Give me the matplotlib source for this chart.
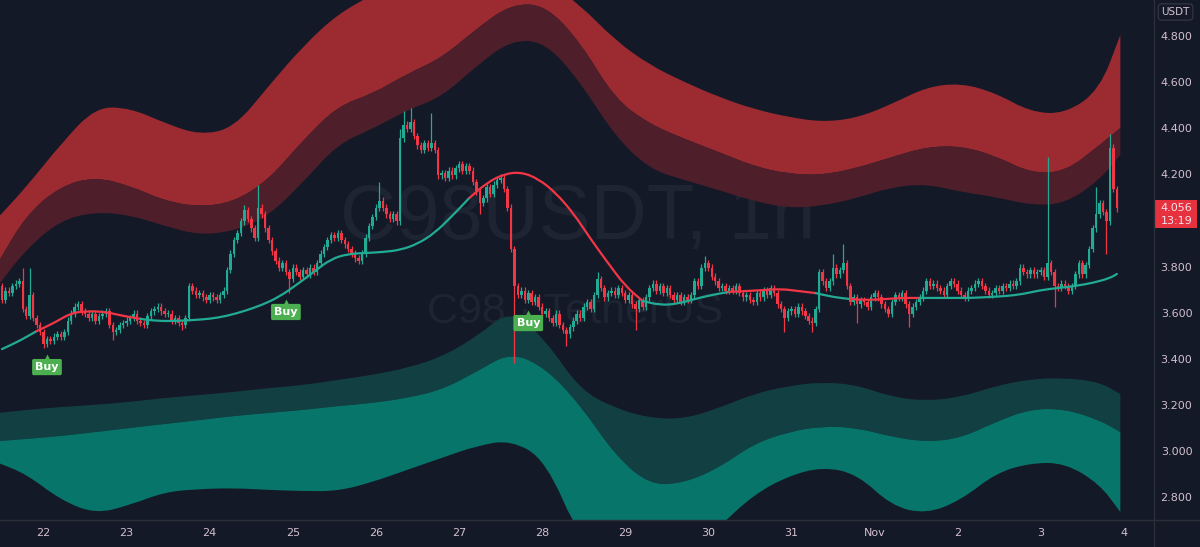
import numpy as np
import matplotlib.pyplot as plt
from matplotlib.patches import Rectangle, PathPatch
from matplotlib.path import Path

# hourly candles, hour 0 = Oct 22 00:00, first candle Oct 21 12:00
HOUR0 = -12
FIRST_OPEN = 3.72
closes = [
    3.66, 3.70, 3.69, 3.72, 3.73, 3.74, 3.62, 3.59, 3.68, 3.58, 3.55, 3.52,
    # Oct 22
    3.47, 3.49, 3.48, 3.50, 3.51, 3.50, 3.52, 3.57, 3.60, 3.63, 3.64, 3.61,
    3.60, 3.58, 3.60, 3.57, 3.59, 3.60, 3.61, 3.55, 3.52, 3.53, 3.55, 3.56,
    # Oct 23
    3.57, 3.58, 3.60, 3.57, 3.56, 3.55, 3.59, 3.61, 3.62, 3.63, 3.61, 3.60,
    3.60, 3.57, 3.58, 3.56, 3.55, 3.58, 3.72, 3.70, 3.68, 3.69, 3.67, 3.66,
    # Oct 24
    3.68, 3.67, 3.66, 3.68, 3.70, 3.79, 3.86, 3.92, 3.95, 4.00, 4.05, 4.01,
    3.97, 3.93, 4.06, 4.03, 3.97, 3.92, 3.87, 3.83, 3.80, 3.82, 3.78, 3.75,
    # Oct 25
    3.80, 3.78, 3.76, 3.79, 3.77, 3.80, 3.78, 3.82, 3.86, 3.89, 3.92, 3.94,
    3.93, 3.95, 3.92, 3.90, 3.88, 3.86, 3.84, 3.83, 3.86, 3.93, 3.98, 4.02,
    # Oct 26
    4.06, 4.09, 4.06, 4.03, 4.01, 4.03, 4.00, 4.36, 4.42, 4.40, 4.43, 4.37,
    4.33, 4.31, 4.34, 4.32, 4.34, 4.31, 4.20, 4.21, 4.19, 4.22, 4.20, 4.23,
    # Oct 27
    4.25, 4.22, 4.24, 4.22, 4.17, 4.13, 4.08, 4.10, 4.15, 4.12, 4.16, 4.18,
    4.19, 4.14, 4.06, 3.88, 3.72, 3.68, 3.70, 3.66, 3.69, 3.65, 3.67, 3.63,
    # Oct 28
    3.60, 3.61, 3.58, 3.56, 3.60, 3.55, 3.53, 3.51, 3.54, 3.57, 3.60, 3.58,
    3.63, 3.65, 3.62, 3.68, 3.75, 3.71, 3.67, 3.69, 3.70, 3.68, 3.71, 3.69,
    # Oct 29
    3.66, 3.68, 3.64, 3.62, 3.66, 3.63, 3.67, 3.71, 3.73, 3.70, 3.72, 3.69,
    3.71, 3.68, 3.66, 3.68, 3.65, 3.67, 3.66, 3.68, 3.74, 3.72, 3.80, 3.82,
    # Oct 30
    3.80, 3.76, 3.74, 3.71, 3.72, 3.70, 3.71, 3.70, 3.72, 3.69, 3.67, 3.68,
    3.66, 3.65, 3.69, 3.67, 3.70, 3.68, 3.71, 3.69, 3.64, 3.62, 3.58, 3.61,
    # Oct 31
    3.62, 3.60, 3.63, 3.61, 3.59, 3.57, 3.56, 3.62, 3.78, 3.74, 3.71, 3.74,
    3.80, 3.77, 3.79, 3.82, 3.72, 3.65, 3.67, 3.64, 3.66, 3.65, 3.63, 3.67,
    # Nov 1
    3.69, 3.67, 3.64, 3.62, 3.60, 3.65, 3.68, 3.67, 3.69, 3.64, 3.60, 3.63,
    3.65, 3.67, 3.70, 3.74, 3.72, 3.73, 3.71, 3.70, 3.68, 3.72, 3.74, 3.73,
    # Nov 2
    3.70, 3.68, 3.67, 3.70, 3.71, 3.73, 3.74, 3.72, 3.70, 3.68, 3.69, 3.71,
    3.70, 3.72, 3.71, 3.73, 3.72, 3.74, 3.80, 3.78, 3.77, 3.79, 3.77, 3.78,
    # Nov 3
    3.79, 3.76, 3.82, 3.78, 3.72, 3.71, 3.73, 3.72, 3.70, 3.72, 3.77, 3.82,
    3.77, 3.81, 3.88, 3.97, 4.03, 4.08, 4.04, 4.00, 4.32, 4.14, 4.056,
]

# long wicks (hour: price); other candles get a short wick
high_wicks = {-6: 3.80, -4: 3.80, 58: 4.07, 62: 4.16, 97: 4.17, 103: 4.40,
              104: 4.48, 106: 4.49, 112: 4.47, 160: 3.78, 191: 3.85,
              228: 3.86, 231: 3.90, 290: 4.28, 304: 4.15, 308: 4.38}
low_wicks = {0: 3.45, 20: 3.485, 40: 3.53, 71: 3.69, 126: 4.03, 136: 3.385,
             151: 3.46, 171: 3.53, 214: 3.52, 222: 3.52, 235: 3.56,
             250: 3.54, 292: 3.63, 307: 3.86}
WICK = 0.014

# envelope bands sampled every 10 hours
band_hours = [-13, -5, 5, 15, 25, 35, 45, 55, 65, 75, 85, 95, 105, 115, 125,
              135, 145, 155, 165, 175, 185, 195, 205, 215, 225, 235, 245,
              255, 265, 275, 285, 295, 305, 311]
upper_top = [4.019, 4.149, 4.336, 4.496, 4.492, 4.427, 4.375, 4.405, 4.587,
             4.761, 4.900, 4.982, 5.091, 5.091, 5.091, 5.091, 5.047, 4.939,
             4.787, 4.679, 4.605, 4.540, 4.488, 4.453, 4.431, 4.449, 4.509,
             4.583, 4.600, 4.557, 4.475, 4.466, 4.570, 4.809]
upper_mid = [3.824, 4.028, 4.154, 4.193, 4.154, 4.089, 4.063, 4.084, 4.180,
             4.353, 4.501, 4.553, 4.640, 4.709, 4.835, 4.943, 4.939, 4.778,
             4.531, 4.423, 4.358, 4.301, 4.240, 4.206, 4.201, 4.232, 4.279,
             4.323, 4.327, 4.284, 4.210, 4.214, 4.331, 4.405]
upper_bot = [3.724, 3.880, 4.006, 4.041, 4.028, 3.980, 3.941, 3.958, 4.023,
             4.171, 4.336, 4.401, 4.483, 4.540, 4.674, 4.787, 4.778, 4.605,
             4.371, 4.227, 4.180, 4.136, 4.089, 4.058, 4.067, 4.102, 4.149,
             4.162, 4.128, 4.106, 4.071, 4.076, 4.180, 4.288]
lower_top = [3.169, 3.182, 3.195, 3.204, 3.217, 3.234, 3.247, 3.260, 3.277,
             3.290, 3.312, 3.334, 3.364, 3.412, 3.499, 3.620, 3.485, 3.269,
             3.190, 3.147, 3.143, 3.190, 3.251, 3.286, 3.303, 3.290, 3.238,
             3.221, 3.238, 3.286, 3.316, 3.321, 3.303, 3.251]
lower_mid = [3.047, 3.056, 3.069, 3.086, 3.104, 3.121, 3.138, 3.156, 3.169,
             3.182, 3.199, 3.212, 3.234, 3.269, 3.347, 3.433, 3.364, 3.204,
             2.987, 2.856, 2.865, 2.930, 3.034, 3.086, 3.112, 3.104, 3.065,
             3.043, 3.060, 3.130, 3.186, 3.186, 3.138, 3.086]
lower_bot = [2.952, 2.904, 2.791, 2.731, 2.770, 2.826, 2.839, 2.843, 2.835,
             2.830, 2.830, 2.869, 2.922, 2.974, 3.026, 3.052, 2.965, 2.618,
             2.531, 2.509, 2.531, 2.674, 2.813, 2.895, 2.935, 2.904, 2.765,
             2.731, 2.791, 2.908, 2.952, 2.952, 2.861, 2.739]

# smoothed average line, sampled every 5 hours
ma_hours = [-12, -7, -2, 3, 8, 13, 18, 23, 28, 33, 38, 43, 48, 53, 58, 63,
            68, 73, 78, 83, 88, 93, 98, 103, 108, 113, 118, 123, 128, 133,
            138, 143, 148, 153, 158, 163, 168, 173, 178, 183, 188, 193, 198,
            203, 208, 213, 218, 223, 228, 233, 238, 243, 248, 253, 258, 263,
            268, 273, 278, 283, 288, 293, 298, 303, 308, 310]
ma_vals = [3.446, 3.481, 3.524, 3.559, 3.603, 3.611, 3.607, 3.590, 3.577,
           3.568, 3.568, 3.572, 3.577, 3.590, 3.611, 3.637, 3.672, 3.724,
           3.780, 3.837, 3.859, 3.863, 3.867, 3.876, 3.902, 3.950, 4.023,
           4.102, 4.167, 4.206, 4.214, 4.184, 4.123, 4.036, 3.924, 3.820,
           3.720, 3.655, 3.637, 3.642, 3.663, 3.681, 3.694, 3.698, 3.702,
           3.707, 3.698, 3.689, 3.672, 3.663, 3.659, 3.663, 3.668, 3.668,
           3.668, 3.668, 3.668, 3.672, 3.676, 3.685, 3.702, 3.711, 3.720,
           3.733, 3.754, 3.772]
ma_red_spans = [(-2, 28), (123, 173), (198, 223), (233, 253)]

buy_hours = [1, 70, 140]
buy_prices = [3.368, 3.607, 3.559]

day_hours = [0, 24, 48, 72, 96, 120, 144, 168, 192, 216, 240, 264, 288, 312]
day_labels = ['22', '23', '24', '25', '26', '27', '28', '29', '30', '31',
              'Nov', '2', '3', '4']
price_ticks = [2.8, 3.0, 3.2, 3.4, 3.6, 3.8, 4.2, 4.4, 4.6, 4.8]
last_price = 4.056
countdown = '13:19'

BG = '#141927'
UP = '#22ab94'
DOWN = '#f23645'
RED_BRIGHT = '#9b2a31'
RED_DARK = '#4e1f2a'
TEAL_BRIGHT = '#08756a'
TEAL_DARK = '#123f42'
LABEL = '#d3c0cf'
BORDER = '#2a2e39'


def curve(xs, ys):
    # quadratic bezier through the midpoints, sample points as control points
    p = np.column_stack([xs, ys])
    verts = [p[0], (p[0] + p[1]) / 2]
    codes = [Path.LINETO, Path.LINETO]
    for i in range(1, len(p) - 1):
        verts += [p[i], (p[i] + p[i + 1]) / 2]
        codes += [Path.CURVE3, Path.CURVE3]
    verts.append(p[-1])
    codes.append(Path.LINETO)
    return verts, codes


def band(ax, xs, lo, hi, color):
    v1, c1 = curve(xs, hi)
    v2, c2 = curve(xs[::-1], lo[::-1])
    c1[0] = Path.MOVETO
    path = Path(v1 + v2 + [v1[0]], c1 + c2 + [Path.CLOSEPOLY])
    ax.add_patch(PathPatch(path, fc=color, ec='none', lw=0, zorder=1))


fig = plt.figure(figsize=(12, 5.47), dpi=100, facecolor=BG)
W, H = 1200, 547
ax = fig.add_axes([0, 27 / H, 1153 / W, 520 / H])
ax.set_facecolor(BG)
ax.set_xlim(-12.57, 320.43)
ax.set_ylim(2.7046, 4.9605)
ax.set_xticks([])
ax.set_yticks([])
for s in ax.spines.values():
    s.set_visible(False)

# watermark
ax.text(0.5005, 0.579, 'C98USDT, 1h', transform=ax.transAxes, ha='center',
        va='center', fontsize=56, color='#1f2432', family='Liberation Sans',
        zorder=0)
ax.text(0.4985, 0.40, 'C98 · TetherUS', transform=ax.transAxes, ha='center',
        va='center', fontsize=31, color='#1f2432', family='Liberation Sans',
        zorder=0)

# bands
bh = np.array(band_hours, dtype=float)
band(ax, bh, np.array(upper_mid), np.array(upper_top), RED_BRIGHT)
band(ax, bh, np.array(upper_bot), np.array(upper_mid), RED_DARK)
band(ax, bh, np.array(lower_mid), np.array(lower_top), TEAL_DARK)
band(ax, bh, np.array(lower_bot), np.array(lower_mid), TEAL_BRIGHT)

# candles
hours = np.arange(HOUR0, HOUR0 + len(closes))
c = np.array(closes)
o = np.concatenate([[FIRST_OPEN], c[:-1]])
colors = np.where(c >= o, UP, DOWN)
hi = np.array([high_wicks.get(h, max(oo, cc) + WICK) for h, oo, cc in zip(hours, o, c)])
lo = np.array([low_wicks.get(h, min(oo, cc) - WICK) for h, oo, cc in zip(hours, o, c)])
ax.vlines(hours, lo, hi, colors=colors, linewidth=0.9, zorder=3)
body_h = np.maximum(np.abs(c - o), 0.004)
ax.bar(hours, body_h, bottom=np.minimum(o, c), width=0.72, color=colors,
       linewidth=0, zorder=3)

# average line, split into colour runs
is_red = [any(a <= h0 < b for a, b in ma_red_spans) for h0 in ma_hours[:-1]]
start = 0
for i in range(1, len(is_red) + 1):
    if i == len(is_red) or is_red[i] != is_red[start]:
        xs = ma_hours[start:i + 1]
        ys = ma_vals[start:i + 1]
        col = DOWN if is_red[start] else UP
        if len(xs) > 2:
            v, cd = curve(np.array(xs, float), np.array(ys))
            cd[0] = Path.MOVETO
            ax.add_patch(PathPatch(Path(v, cd), fill=False, lw=1.6, ec=col,
                                   capstyle='round', zorder=4))
        else:
            ax.plot(xs, ys, lw=1.6, color=col, solid_capstyle='round', zorder=4)
        start = i

# buy labels
for h, p in zip(buy_hours, buy_prices):
    ax.plot(h, p + 0.043, marker='^', ms=4.5, color='#4caf50', mec='none', zorder=5)
    ax.text(h, p, 'Buy', ha='center', va='center', fontsize=8, color='white',
            fontweight='bold', zorder=6,
            bbox=dict(boxstyle='round,pad=0.28,rounding_size=0.15',
                      fc='#4caf50', ec='none'))

# right price scale
ax_r = fig.add_axes([1153 / W, 27 / H, 47 / W, 520 / H], sharey=ax)
ax_r.set_facecolor(BG)
ax_r.set_xlim(0, 1)
ax_r.set_xticks([])
ax_r.tick_params(left=False, labelleft=False)
for s in ax_r.spines.values():
    s.set_visible(False)
for p in price_ticks:
    ax_r.text(0.5, p, f'{p:.3f}', ha='center', va='center', fontsize=8,
              color=LABEL)
ax_r.add_patch(Rectangle((0.02, last_price - 0.085), 0.91, 0.122,
                         fc='#e5323e', ec='none', zorder=3))
ax_r.text(0.5, last_price, f'{last_price:.3f}', ha='center', va='center',
          fontsize=8, color='#f4e2ea', zorder=4)
ax_r.text(0.5, last_price - 0.055, countdown, ha='center', va='center',
          fontsize=8, color='#f4e2ea', zorder=4)
ax_r.text(0.48, 4.9605 - 12 / 230.5, 'USDT', ha='center', va='center',
          fontsize=7.5, color=LABEL,
          bbox=dict(boxstyle='round,pad=0.3,rounding_size=0.3', fc=BG,
                    ec='#363a45', lw=0.8))

# time scale
ax_b = fig.add_axes([0, 0, 1153 / W, 27 / H], sharex=ax)
ax_b.set_facecolor(BG)
ax_b.set_ylim(0, 1)
ax_b.set_yticks([])
ax_b.tick_params(bottom=False, labelbottom=False)
for s in ax_b.spines.values():
    s.set_visible(False)
for h, lab in zip(day_hours, day_labels):
    ax_b.text(h, 0.52, lab, ha='center', va='center', fontsize=8, color=LABEL)

# scale borders
fig.add_artist(plt.Line2D([1153.5 / W, 1153.5 / W], [0, 1], color=BORDER, lw=1))
fig.add_artist(plt.Line2D([0, 1], [27 / H, 27 / H], color=BORDER, lw=1))

fig.savefig('out.png', dpi=100, facecolor=BG)
